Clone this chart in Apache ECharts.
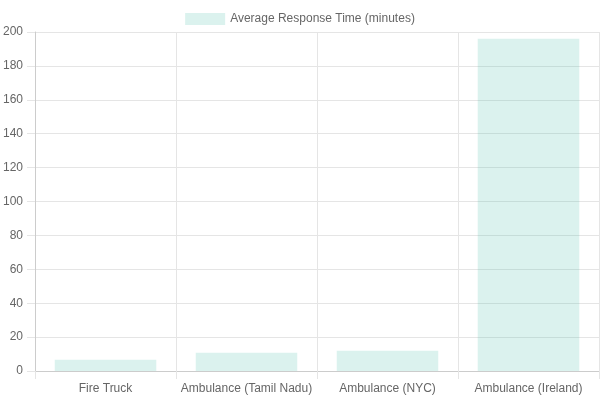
<!DOCTYPE html>
<html><head><meta charset="utf-8">
<script src="https://cdn.jsdelivr.net/npm/echarts@6/dist/echarts.min.js"></script>
<style>html,body{margin:0;padding:0;background:#fff}#c{width:600px;height:400px}</style>
</head><body><div id="c"></div>
<script>
const categories = ["Fire Truck", "Ambulance (Tamil Nadu)", "Ambulance (NYC)", "Ambulance (Ireland)"];
const responseTimes = [6.7, 10.8, 12, 196];
const seriesName = "Average Response Time (minutes)";
const chart = echarts.init(document.getElementById('c'));
chart.setOption({
  animation: false,
  legend: {top: 8, left: 'center', itemWidth: 40, itemHeight: 12, icon: 'rect',
    textStyle: {color: '#666', fontSize: 12, fontFamily: 'Liberation Sans, Arial'}},
  grid: {left: 34, right: 1, top: 32, bottom: 29},
  xAxis: {type: 'category', data: categories,
    axisLine: {lineStyle: {color: '#ccc'}}, axisTick: {show: true, interval: 0, length: 8, lineStyle: {color: '#e5e5e5'}},
    splitLine: {show: true, interval: 0, lineStyle: {color: '#e5e5e5'}},
    axisLabel: {interval: 0, color: '#666', fontSize: 12, fontFamily: 'Liberation Sans, Arial', margin: 12}},
  yAxis: {type: 'value', min: 0, max: 200, interval: 20,
    axisLine: {show: true, lineStyle: {color: '#ccc'}}, axisTick: {show: true, length: 8, lineStyle: {color: '#e5e5e5'}},
    splitLine: {lineStyle: {color: '#e5e5e5'}},
    axisLabel: {color: '#666', fontSize: 12, fontFamily: 'Liberation Sans, Arial', margin: 12}},
  series: [{name: seriesName, type: 'bar', data: responseTimes, barCategoryGap: '28%',
    itemStyle: {color: 'rgba(75,192,170,0.2)'}}]
});
</script></body></html>
